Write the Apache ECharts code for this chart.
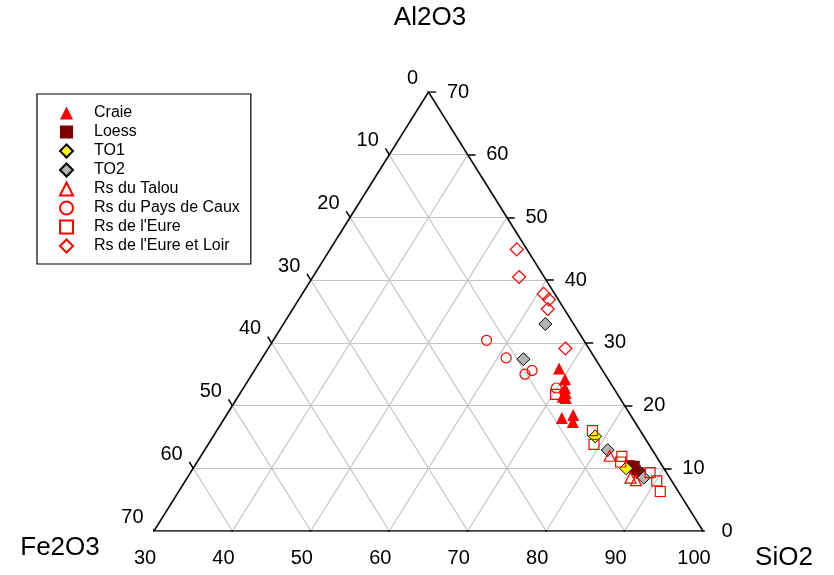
<!DOCTYPE html>
<html>
<head>
<meta charset="utf-8">
<script src="https://cdn.jsdelivr.net/npm/echarts@6/dist/echarts.min.js"></script>
<style>html,body{margin:0;padding:0;background:#fff;}#chart{width:834px;height:575px;}</style>
</head>
<body>
<div id="chart"></div>
<script>
// Tick labels
const siO2Ticks = [30, 40, 50, 60, 70, 80, 90, 100];
const al2O3Ticks = [0, 10, 20, 30, 40, 50, 60, 70];
const fe2O3Ticks = [0, 10, 20, 30, 40, 50, 60, 70];
const gridValues = [10, 20, 30, 40, 50, 60];

// Data: [SiO2, Al2O3] (Fe2O3 = 100 - SiO2 - Al2O3)
const craie = [[68.7, 25.9], [70.3, 24.2], [71.0, 22.8], [71.5, 22.0], [71.4, 21.4], [71.9, 21.2], [73.0, 18.0], [74.2, 18.5], [74.7, 17.4]];
const loess = [[85.4, 10.5], [86.0, 10.1], [86.6, 9.7], [87.1, 9.4], [87.5, 9.1], [86.1, 10.4]];
const to1 = [[78.7, 15.1], [85.2, 10.0]];
const to2 = [[63.4, 33.0], [63.4, 27.4], [81.4, 12.9], [88.2, 8.5]];
const rsTalou = [[82.1, 12.0], [86.5, 8.5], [87.4, 8.1]];
const rsCaux = [[57.2, 30.4], [61.1, 27.6], [65.4, 25.6], [64.8, 25.0], [69.9, 22.8]];
const rsEure = [[70.3, 21.8], [77.9, 16.0], [79.2, 13.8], [83.7, 11.9], [84.0, 11.0], [88.6, 9.3], [90.1, 8.0], [91.4, 6.3]];
const rsEureLoir = [[53.8, 44.9], [56.3, 40.5], [60.8, 37.8], [61.9, 36.9], [62.5, 35.4], [67.9, 29.1]];

// ternary (SiO2 30..100, Al2O3 0..70) -> cartesian unit coordinates
function tern(si, al) {
  return [((si - 30) + 0.5 * al) / 70, al / 70];
}
function toXY(arr) { return arr.map(p => tern(p[0], p[1])); }

const edges = [
  { coords: [tern(30, 0), tern(100, 0)] },
  { coords: [tern(100, 0), tern(30, 70)] },
  { coords: [tern(30, 70), tern(30, 0)] }
];
const gridLines = [];
gridValues.forEach(v => {
  gridLines.push({ coords: [tern(30, v), tern(100 - v, v)] });
  const s = 30 + v;
  gridLines.push({ coords: [tern(s, 0), tern(s, 100 - s)] });
  gridLines.push({ coords: [tern(30, 70 - v), tern(100 - v, 0)] });
});
const tl = 1.0;
const ticks = [];
siO2Ticks.forEach(v => ticks.push({ coords: [tern(v, 0), tern(v, -tl)] }));
al2O3Ticks.forEach(v => ticks.push({ coords: [tern(100 - v, v), tern(100 - v + tl, v)] }));
fe2O3Ticks.forEach(v => ticks.push({ coords: [tern(30, 70 - v), tern(30 - tl, 70 - v + tl)] }));

const tickFont = { fontSize: 20, color: '#000', opacity: 1, fontFamily: 'Liberation Sans' };
const hidden = { color: 'rgba(0,0,0,0)', opacity: 1 };
const open = { color: 'rgba(255,255,255,0)', borderColor: '#ff0000', borderWidth: 1.2, opacity: 1 };

const chart = echarts.init(document.getElementById('chart'), null, { renderer: 'canvas' });
chart.setOption({
  animation: false,
  textStyle: { fontFamily: 'Liberation Sans' },
  grid: { left: 154, top: 92, width: 549, height: 439 },
  xAxis: { type: 'value', min: 0, max: 1, show: false },
  yAxis: { type: 'value', min: 0, max: 1, show: false },
  legend: {
    orient: 'vertical', left: 37, top: 94,
    borderColor: '#000', borderWidth: 1.2,
    padding: [11, 11, 10, 22],
    itemWidth: 13, itemHeight: 13, itemGap: 3,
    symbolKeepAspect: true,
    textStyle: { fontSize: 16, color: '#000', padding: [0, 0, 0, 16] },
    data: ['Craie', 'Loess', 'TO1', 'TO2', 'Rs du Talou', 'Rs du Pays de Caux', "Rs de l'Eure", "Rs de l'Eure et Loir"]
  },
  graphic: [
    { type: 'text', x: 430, y: 18, style: { text: 'Al2O3', fontSize: 26, fontFamily: 'Liberation Sans', fill: '#000', textAlign: 'center', textVerticalAlign: 'middle' } },
    { type: 'text', x: 60, y: 548, style: { text: 'Fe2O3', fontSize: 26, fontFamily: 'Liberation Sans', fill: '#000', textAlign: 'center', textVerticalAlign: 'middle' } },
    { type: 'text', x: 784, y: 558, style: { text: 'SiO2', fontSize: 26, fontFamily: 'Liberation Sans', fill: '#000', textAlign: 'center', textVerticalAlign: 'middle' } }
  ],
  series: [
    { type: 'lines', coordinateSystem: 'cartesian2d', silent: true, z: 1,
      lineStyle: { color: '#c4c4c4', width: 1.2, opacity: 1 }, data: gridLines },
    { type: 'lines', coordinateSystem: 'cartesian2d', silent: true, z: 2,
      lineStyle: { color: '#000', width: 1.5, opacity: 1 }, data: edges.concat(ticks) },
    { type: 'scatter', silent: true, symbolSize: 1, itemStyle: hidden,
      data: siO2Ticks.map(v => ({ value: tern(v, 0), name: String(v) })),
      label: { show: true, position: 'inside', offset: [-9, 27], formatter: p => p.name, ...tickFont } },
    { type: 'scatter', silent: true, symbolSize: 1, itemStyle: hidden,
      data: al2O3Ticks.map(v => ({ value: tern(100 - v, v), name: String(v) })),
      label: { show: true, position: 'right', distance: 18, formatter: p => p.name, ...tickFont } },
    { type: 'scatter', silent: true, symbolSize: 1, itemStyle: hidden,
      data: fe2O3Ticks.map(v => ({ value: tern(30, 70 - v), name: String(v) })),
      label: { show: true, position: 'left', distance: 10, offset: [0, -14], formatter: p => p.name, ...tickFont } },
    { name: 'Craie', type: 'scatter', symbol: 'triangle', symbolSize: 12, symbolKeepAspect: true, z: 5, itemStyle: { color: '#ff0000', opacity: 1 }, data: toXY(craie) },
    { name: 'Loess', type: 'scatter', symbol: 'rect', symbolSize: 10, symbolKeepAspect: true, z: 5, itemStyle: { color: '#800000', opacity: 1 }, data: toXY(loess) },
    { name: 'TO1', type: 'scatter', symbol: 'diamond', symbolSize: 13, symbolKeepAspect: true, z: 5, itemStyle: { color: '#ffff00', borderColor: '#000', borderWidth: 1, opacity: 1 }, data: toXY(to1) },
    { name: 'TO2', type: 'scatter', symbol: 'diamond', symbolSize: 13, symbolKeepAspect: true, z: 5, itemStyle: { color: '#b3b3b3', borderColor: '#000', borderWidth: 1, opacity: 1 }, data: toXY(to2) },
    { name: 'Rs du Talou', type: 'scatter', symbol: 'triangle', symbolSize: 11, symbolKeepAspect: true, z: 5, itemStyle: open, data: toXY(rsTalou) },
    { name: 'Rs du Pays de Caux', type: 'scatter', symbol: 'circle', symbolSize: 10, symbolKeepAspect: true, z: 5, itemStyle: open, data: toXY(rsCaux) },
    { name: "Rs de l'Eure", type: 'scatter', symbol: 'rect', symbolSize: 10, symbolKeepAspect: true, z: 5, itemStyle: open, data: toXY(rsEure) },
    { name: "Rs de l'Eure et Loir", type: 'scatter', symbol: 'diamond', symbolSize: 13, symbolKeepAspect: true, z: 5, itemStyle: open, data: toXY(rsEureLoir) }
  ]
});
</script>
</body>
</html>
